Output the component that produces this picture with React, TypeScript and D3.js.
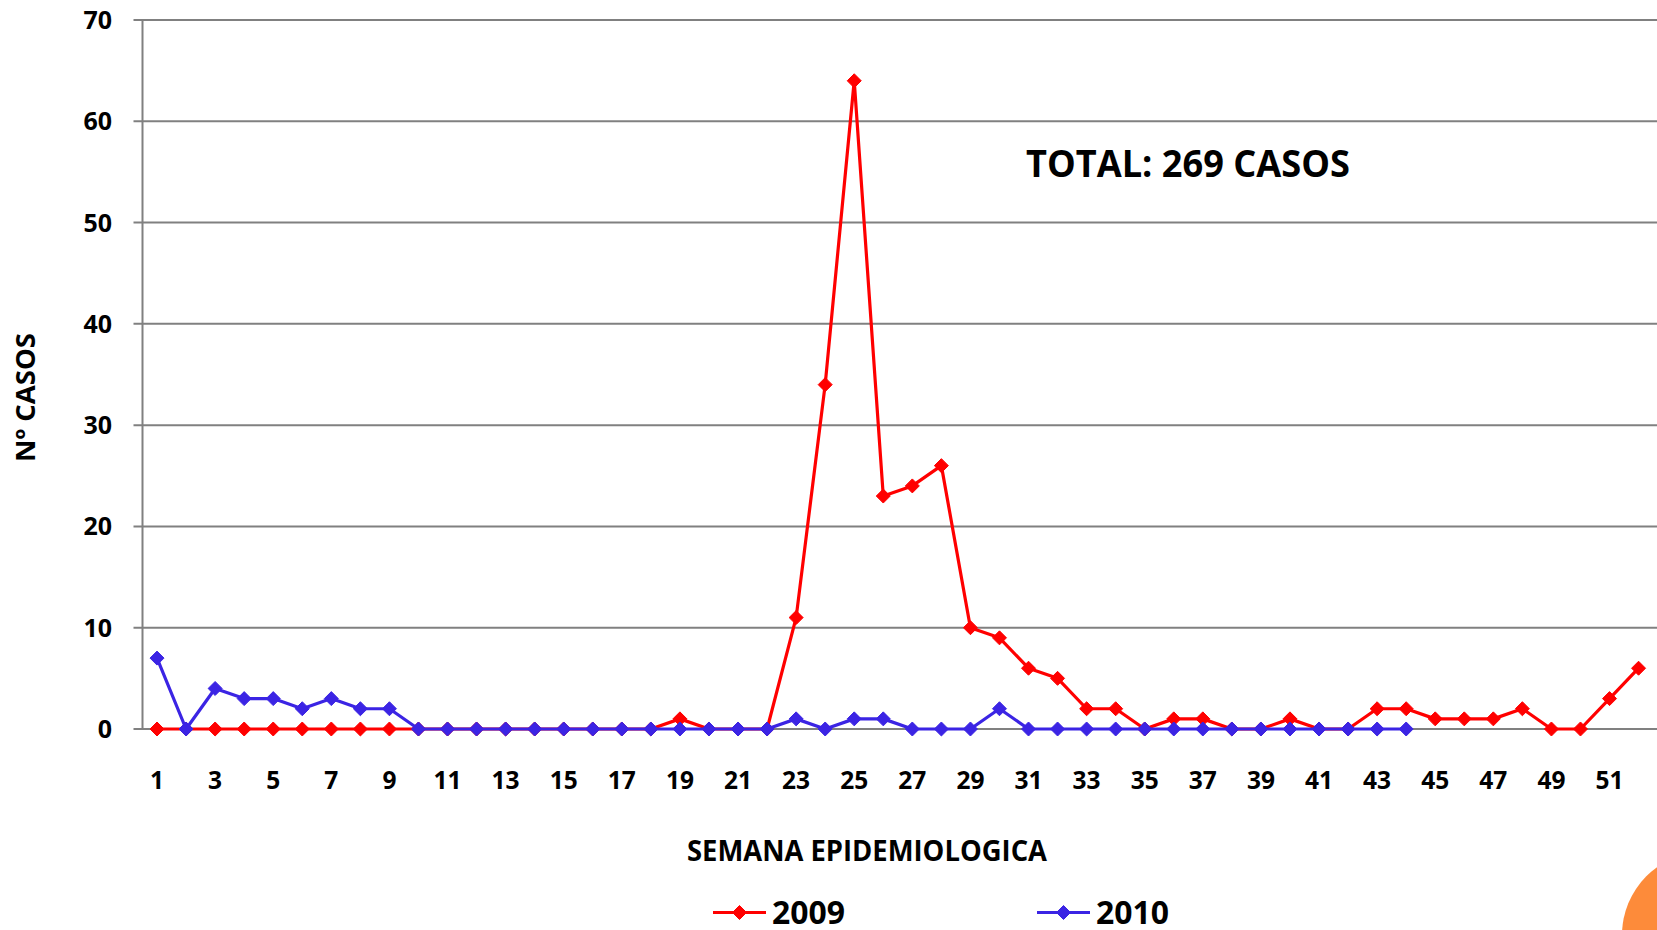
import React from "react";
import * as d3 from "d3";

const weeks: number[] = Array.from({ length: 52 }, (_, i) => i + 1);

const cases2009: number[] = [
  0, 0, 0, 0, 0, 0, 0, 0, 0, 0,
  0, 0, 0, 0, 0, 0, 0, 0, 1, 0,
  0, 0, 11, 34, 64, 23, 24, 26, 10, 9,
  6, 5, 2, 2, 0, 1, 1, 0, 0, 1,
  0, 0, 2, 2, 1, 1, 1, 2, 0, 0,
  3, 6,
];

const cases2010: number[] = [
  7, 0, 4, 3, 3, 2, 3, 2, 2, 0,
  0, 0, 0, 0, 0, 0, 0, 0, 0, 0,
  0, 0, 1, 0, 1, 1, 0, 0, 0, 2,
  0, 0, 0, 0, 0, 0, 0, 0, 0, 0,
  0, 0, 0, 0,
];

const yTicks: number[] = [0, 10, 20, 30, 40, 50, 60, 70];
const xTickLabels: number[] = weeks.filter((w) => w % 2 === 1);

const seriesNames: string[] = ["2009", "2010"];
const seriesColors: string[] = ["#FF0000", "#3B24E4"];

const FONT = "'Open Sans', 'DejaVu Sans', sans-serif";

export default function App() {
  const W = 1657;
  const H = 930;
  const left = 142.5;
  const right = 1657;
  const top = 20;
  const bottom = 729;

  const x = d3.scaleBand<number>().domain(weeks).range([left, left + 52 * 29.05]).padding(0);
  const cx = (w: number) => (x(w) as number) + x.bandwidth() / 2;
  const y = d3.scaleLinear().domain([0, 70]).range([bottom, top]);

  const line = d3
    .line<number>()
    .x((_, i) => cx(weeks[i]))
    .y((d) => y(d));

  const diamond = d3.symbol().type(d3.symbolDiamond2).size(125)();

  const series = [cases2009, cases2010];

  return (
    <svg
      width={W}
      height={H}
      style={{ position: "absolute", left: 0, top: 0, display: "block", background: "#fff" }}
      fontFamily={FONT}
    >
      {/* gridlines */}
      {yTicks.map((t) => (
        <line key={"g" + t} x1={left - 9} x2={right} y1={y(t)} y2={y(t)} stroke="#808080" strokeWidth={2} />
      ))}
      {/* y axis */}
      <line x1={left} x2={left} y1={top} y2={bottom} stroke="#808080" strokeWidth={2} />

      {/* y tick labels */}
      {yTicks.map((t) => (
        <text key={"yt" + t} x={112} y={y(t) + 9} textAnchor="end" fontSize={25} fontWeight={700} fill="#000">
          {t}
        </text>
      ))}

      {/* x tick labels */}
      {xTickLabels.map((w) => (
        <text key={"xt" + w} x={cx(w)} y={789} textAnchor="middle" fontSize={24.5} fontWeight={700} fill="#000">
          {w}
        </text>
      ))}

      {/* series */}
      {series.map((s, si) => (
        <g key={"s" + si}>
          <path d={line(s) || ""} fill="none" stroke={seriesColors[si]} strokeWidth={3.2} strokeLinejoin="round" />
          {s.map((v, i) => (
            <path
              key={i}
              d={diamond || ""}
              transform={`translate(${cx(weeks[i])},${y(v)})`}
              fill={seriesColors[si]}
              stroke={seriesColors[si]}
              strokeWidth={1}
            />
          ))}
        </g>
      ))}

      {/* annotation */}
      <text x={1026} y={177} fontSize={37} fontWeight={700} fill="#000" textLength={324} lengthAdjust="spacingAndGlyphs">
        TOTAL: 269 CASOS
      </text>

      {/* axis titles */}
      <text x={687} y={860.5} fontSize={28} fontWeight={700} fill="#000" textLength={360} lengthAdjust="spacingAndGlyphs">
        SEMANA EPIDEMIOLOGICA
      </text>
      <text
        transform="translate(35,462) rotate(-90)"
        x={0}
        y={0}
        fontSize={26}
        fontWeight={700}
        fill="#000"
        textLength={129}
        lengthAdjust="spacingAndGlyphs"
      >
        Nº CASOS
      </text>

      {/* legend */}
      {seriesNames.map((n, i) => {
        const lx = i === 0 ? 713 : 1037;
        const ly = 912.5;
        return (
          <g key={"l" + n}>
            <line x1={lx} x2={lx + 53} y1={ly} y2={ly} stroke={seriesColors[i]} strokeWidth={3} />
            <path
              d={diamond || ""}
              transform={`translate(${lx + 26.5},${ly})`}
              fill={seriesColors[i]}
              stroke={seriesColors[i]}
              strokeWidth={1}
            />
            <text x={lx + 59} y={923.5} fontSize={32} fontWeight={700} fill="#000" textLength={73} lengthAdjust="spacingAndGlyphs">
              {n}
            </text>
          </g>
        );
      })}

      {/* decorative orange circle */}
      <circle cx={1705} cy={935} r={83} fill="#FD8B3A" />
    </svg>
  );
}
